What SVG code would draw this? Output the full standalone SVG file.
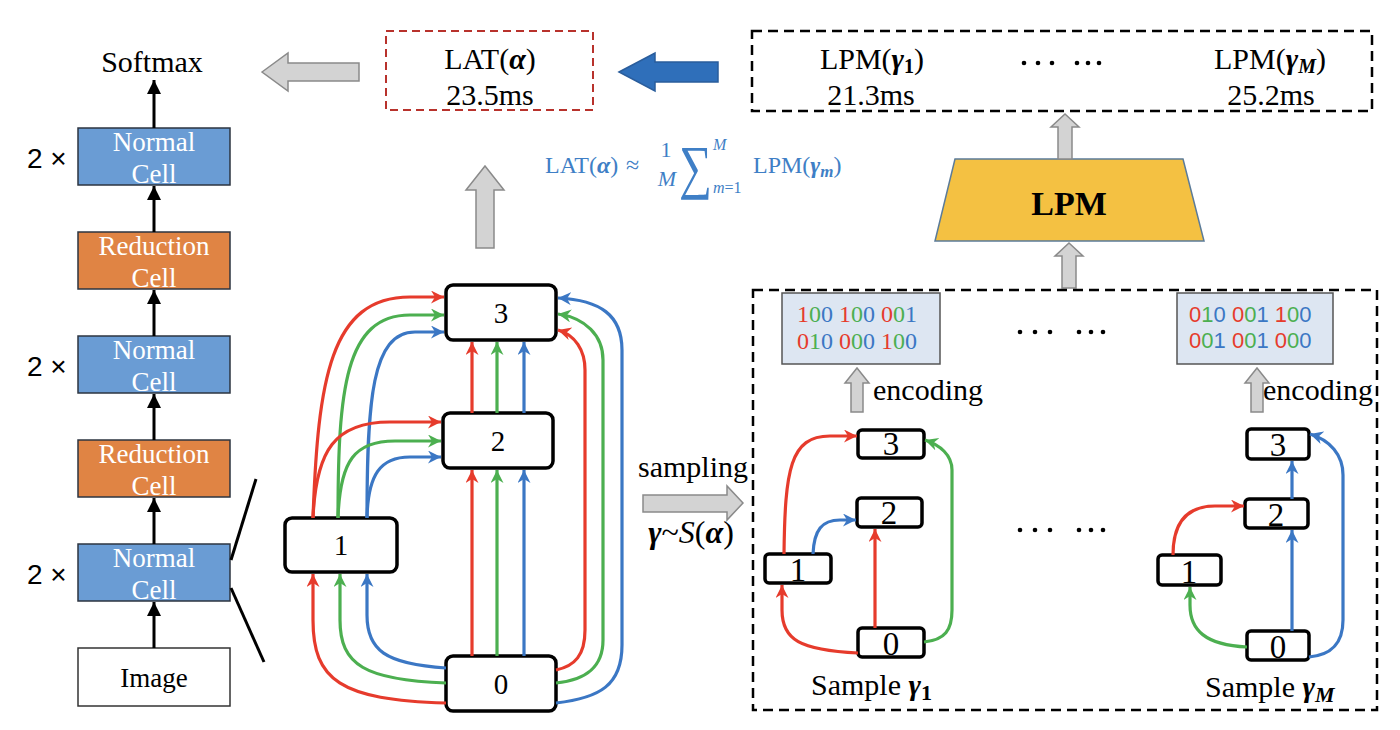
<svg xmlns="http://www.w3.org/2000/svg" width="1400" height="730" viewBox="0 0 1400 730">
<style>
.serif{font-family:"Liberation Serif","Times New Roman",serif;}
.sans{font-family:"Liberation Sans",Arial,sans-serif;}
.cellbox{stroke:#2d3540;stroke-width:1.5;}
.normal{fill:#6a9cd4;}
.reduction{fill:#e08444;}
.celltxt{font-family:"Liberation Serif",serif;font-size:27px;fill:#ffffff;text-anchor:middle;}
.blk{stroke:#000;stroke-width:3;fill:none;}
.gray{fill:#d3d3d3;stroke:#8a8a8a;stroke-width:1.5;}
.node{fill:#fff;stroke:#000;stroke-width:3.5;}
.ntxt{font-family:"Liberation Serif",serif;font-size:29px;text-anchor:middle;fill:#000;}
.stxt{font-family:"Liberation Serif",serif;font-size:33px;text-anchor:middle;fill:#000;}
.r{stroke:#e63b2c;}
.g{stroke:#4caf50;}
.b{stroke:#3b77c4;}
.e{fill:none;stroke-width:3.2;}
.dash{fill:none;stroke:#000;stroke-width:2.5;stroke-dasharray:10 6;}
.enc{fill:#dde6f2;stroke:#555;stroke-width:1.5;}
.cr{fill:#e63b2c;}.cg{fill:#4caf50;}.cb{fill:#3b77c4;}
.bi{font-weight:bold;font-style:italic;}
</style>
<defs>
<marker id="ab" markerUnits="userSpaceOnUse" markerWidth="16" markerHeight="14" refX="14" refY="7" orient="auto"><path d="M0,0 L14,7 L0,14 z" fill="#000"/></marker>
<marker id="mr" markerUnits="userSpaceOnUse" markerWidth="15" markerHeight="14" refX="13" refY="6.5" orient="auto"><path d="M0,0 L13,6.5 L0,13 L4,6.5 z" fill="#e63b2c"/></marker>
<marker id="mg" markerUnits="userSpaceOnUse" markerWidth="15" markerHeight="14" refX="13" refY="6.5" orient="auto"><path d="M0,0 L13,6.5 L0,13 L4,6.5 z" fill="#4caf50"/></marker>
<marker id="mb" markerUnits="userSpaceOnUse" markerWidth="15" markerHeight="14" refX="13" refY="6.5" orient="auto"><path d="M0,0 L13,6.5 L0,13 L4,6.5 z" fill="#3b77c4"/></marker>
</defs>
<rect width="1400" height="730" fill="#fff"/>

<!-- Left column -->
<g id="softmax"><text class="serif" x="152" y="72" font-size="30" text-anchor="middle">Softmax</text></g>
<g id="normal1"><rect class="cellbox normal" x="78" y="128" width="152" height="57"/><text class="celltxt" x="154" y="151">Normal</text><text class="celltxt" x="154" y="183">Cell</text><text class="sans" x="27" y="168" font-size="28">2 ×</text></g>
<g id="reduction1"><rect class="cellbox reduction" x="78" y="232" width="152" height="57"/><text class="celltxt" x="154" y="255">Reduction</text><text class="celltxt" x="154" y="287">Cell</text></g>
<g id="normal2"><rect class="cellbox normal" x="78" y="336" width="152" height="57"/><text class="celltxt" x="154" y="359">Normal</text><text class="celltxt" x="154" y="391">Cell</text><text class="sans" x="27" y="376" font-size="28">2 ×</text></g>
<g id="reduction2"><rect class="cellbox reduction" x="78" y="440" width="152" height="57"/><text class="celltxt" x="154" y="463">Reduction</text><text class="celltxt" x="154" y="495">Cell</text></g>
<g id="normal3"><rect class="cellbox normal" x="78" y="544" width="152" height="57"/><text class="celltxt" x="154" y="567">Normal</text><text class="celltxt" x="154" y="599">Cell</text><text class="sans" x="27" y="584" font-size="28">2 ×</text></g>
<g id="image"><rect x="78" y="648" width="152" height="58" fill="#fff" stroke="#333" stroke-width="1.5"/><text class="serif" x="154" y="687" font-size="27" text-anchor="middle">Image</text></g>

<g id="left-connectors">
<line class="blk" x1="154" y1="128" x2="154" y2="80" marker-end="url(#ab)"/>
<line class="blk" x1="154" y1="232" x2="154" y2="186" marker-end="url(#ab)"/>
<line class="blk" x1="154" y1="336" x2="154" y2="290" marker-end="url(#ab)"/>
<line class="blk" x1="154" y1="440" x2="154" y2="394" marker-end="url(#ab)"/>
<line class="blk" x1="154" y1="544" x2="154" y2="498" marker-end="url(#ab)"/>
<line class="blk" x1="154" y1="648" x2="154" y2="602" marker-end="url(#ab)"/>
<line class="blk" x1="231" y1="560" x2="256" y2="479"/>
<line class="blk" x1="231" y1="588" x2="264" y2="662"/>
</g>

<!-- Top row -->
<g id="lat-box">
<rect x="386" y="31" width="207" height="79" fill="none" stroke="#b8322c" stroke-width="2" stroke-dasharray="8 5"/>
<text class="serif" x="490" y="69" font-size="30" text-anchor="middle">LAT(<tspan class="bi">α</tspan>)</text>
<text class="serif" x="490" y="105" font-size="30" text-anchor="middle">23.5ms</text>
</g>
<g id="lpm-results">
<rect class="dash" x="752" y="31" width="620" height="80"/>
<text class="serif" x="872" y="69" font-size="30" text-anchor="middle">LPM(<tspan class="bi">γ</tspan><tspan font-weight="bold" font-size="20" dy="4">1</tspan><tspan dy="-4">)</tspan></text>
<text class="serif" x="871" y="105" font-size="30" text-anchor="middle">21.3ms</text>
<text class="serif" x="1270" y="69" font-size="30" text-anchor="middle">LPM(<tspan class="bi">γ</tspan><tspan class="bi" font-size="20" dy="4">M</tspan><tspan dy="-4">)</tspan></text>
<text class="serif" x="1271" y="105" font-size="30" text-anchor="middle">25.2ms</text>
<g fill="#000"><circle cx="1024" cy="63" r="2.3"/><circle cx="1038" cy="63" r="2.3"/><circle cx="1052" cy="63" r="2.3"/><circle cx="1077" cy="63" r="2.3"/><circle cx="1088" cy="63" r="2.3"/><circle cx="1099" cy="63" r="2.3"/></g>
</g>
<g id="formula" fill="#3f7fc6" class="serif">
<text x="545" y="173" font-size="24">LAT(<tspan class="bi">α</tspan>)</text>
<text x="626" y="173" font-size="24">≈</text>
<text x="666" y="157" font-size="22" text-anchor="middle">1</text>
<text x="667" y="186" font-size="22" text-anchor="middle" font-style="italic">M</text>
<text transform="translate(679,187) scale(1.05,1.35)" font-size="44">∑</text>
<text x="713" y="150" font-size="16" font-style="italic">M</text>
<text x="713" y="193" font-size="16"><tspan font-style="italic">m</tspan>=1</text>
<text x="753" y="173" font-size="24">LPM(<tspan class="bi">γ</tspan><tspan class="bi" font-size="17" dy="4">m</tspan><tspan dy="-4">)</tspan></text>
</g>
<g id="lpm">
<polygon points="955,159 1183,159 1204,241 935,241" fill="#f4c142" stroke="#5b7b99" stroke-width="1.5"/>
<text class="serif" x="1069" y="215" font-size="34" font-weight="bold" text-anchor="middle">LPM</text>
</g>

<g id="block-arrows">
<polygon class="gray" points="262,72 288,53 288,63 359,63 359,81 288,81 288,91"/>
<polygon points="619,72 655,53 655,62 718,62 718,82 655,82 655,91" fill="#2f6fba" stroke="#2a5d9c" stroke-width="1.5"/>
<polygon class="gray" points="485,166 504,190 494,190 494,248 476,248 476,190 466,190"/>
<polygon class="gray" points="1065,114 1079,127 1072,127 1072,159 1058,159 1058,127 1051,127"/>
<polygon class="gray" points="1069,243 1083,256 1076,256 1076,288 1062,288 1062,256 1055,256"/>
<polygon class="gray" points="857,368 869,383 863,383 863,412 851,412 851,383 845,383"/>
<polygon class="gray" points="1257,368 1269,383 1263,383 1263,412 1251,412 1251,383 1245,383"/>
<polygon class="gray" points="743,503 727,486 727,495 643,495 643,512 727,512 727,520"/>
</g>
<g id="sampling-label">
<text class="serif" x="693" y="477" font-size="30" text-anchor="middle">sampling</text>
<text class="serif" x="691" y="543" font-size="32" text-anchor="middle"><tspan class="bi">γ</tspan>~<tspan font-style="italic">S</tspan>(<tspan class="bi">α</tspan>)</text>
</g>

<!-- Supernet graph -->
<g id="sn-node3"><rect class="node" x="446" y="285" width="110" height="55" rx="7"/><text class="ntxt" x="501" y="323">3</text></g>
<g id="sn-node2"><rect class="node" x="443" y="413" width="110" height="55" rx="7"/><text class="ntxt" x="498" y="451">2</text></g>
<g id="sn-node1"><rect class="node" x="285" y="518" width="112" height="54" rx="7"/><text class="ntxt" x="341" y="555">1</text></g>
<g id="sn-node0"><rect class="node" x="446" y="656" width="110" height="55" rx="7"/><text class="ntxt" x="501" y="694">0</text></g>

<g id="sn-edges">
<path class="e r" d="M313,518 C318,380 330,297 410,297 L444,297" marker-end="url(#mr)"/>
<path class="e g" d="M338,518 C338,390 345,315 410,315 L444,315" marker-end="url(#mg)"/>
<path class="e b" d="M367,518 C367,400 372,332 415,332 L444,332" marker-end="url(#mb)"/>
<path class="e r" d="M313,518 C316,450 335,422 390,422 L441,422" marker-end="url(#mr)"/>
<path class="e g" d="M338,518 C340,460 355,441 395,441 L441,441" marker-end="url(#mg)"/>
<path class="e b" d="M367,518 C368,475 380,457 410,457 L441,457" marker-end="url(#mb)"/>
<path class="e r" d="M446,703 C340,700 313,680 313,620 L313,574" marker-end="url(#mr)"/>
<path class="e g" d="M446,683 C365,680 340,665 340,620 L340,574" marker-end="url(#mg)"/>
<path class="e b" d="M446,668 C385,664 367,650 367,615 L367,574" marker-end="url(#mb)"/>
<path class="e r" d="M472,656 L472,470" marker-end="url(#mr)"/>
<path class="e g" d="M497,656 L497,470" marker-end="url(#mg)"/>
<path class="e b" d="M524,656 L524,470" marker-end="url(#mb)"/>
<path class="e r" d="M472,413 L472,342" marker-end="url(#mr)"/>
<path class="e g" d="M497,413 L497,342" marker-end="url(#mg)"/>
<path class="e b" d="M524,413 L524,342" marker-end="url(#mb)"/>
<path class="e r" d="M556,670 C575,666 585,655 585,630 L585,370 C585,350 575,335 558,330" marker-end="url(#mr)"/>
<path class="e g" d="M556,683 C585,680 603,668 603,640 L603,360 C603,335 585,318 558,314" marker-end="url(#mg)"/>
<path class="e b" d="M556,703 C600,698 622,685 622,645 L622,350 C622,315 600,300 558,298" marker-end="url(#mb)"/>
</g>

<!-- Samples -->
<g id="samples-box"><rect class="dash" x="753" y="290" width="624" height="420"/></g>
<g id="enc1"><rect class="enc" x="782" y="293" width="158" height="71"/>
<text class="serif" x="797" y="322" font-size="24"><tspan class="cr">1</tspan><tspan class="cg">0</tspan><tspan class="cb">0</tspan> <tspan class="cr">1</tspan><tspan class="cg">0</tspan><tspan class="cb">0</tspan> <tspan class="cr">0</tspan><tspan class="cg">0</tspan><tspan class="cb">1</tspan></text>
<text class="serif" x="797" y="349" font-size="24"><tspan class="cr">0</tspan><tspan class="cg">1</tspan><tspan class="cb">0</tspan> <tspan class="cr">0</tspan><tspan class="cg">0</tspan><tspan class="cb">0</tspan> <tspan class="cr">1</tspan><tspan class="cg">0</tspan><tspan class="cb">0</tspan></text>
</g>
<g id="enc2"><rect class="enc" x="1177" y="293" width="156" height="71"/>
<text class="sans" x="1189" y="322" font-size="22"><tspan class="cr">0</tspan><tspan class="cg">1</tspan><tspan class="cb">0</tspan> <tspan class="cr">0</tspan><tspan class="cg">0</tspan><tspan class="cb">1</tspan> <tspan class="cr">1</tspan><tspan class="cg">0</tspan><tspan class="cb">0</tspan></text>
<text class="sans" x="1189" y="348" font-size="22"><tspan class="cr">0</tspan><tspan class="cg">0</tspan><tspan class="cb">1</tspan> <tspan class="cr">0</tspan><tspan class="cg">0</tspan><tspan class="cb">1</tspan> <tspan class="cr">0</tspan><tspan class="cg">0</tspan><tspan class="cb">0</tspan></text>
</g>
<g id="enc-labels">
<text class="serif" x="873" y="400" font-size="30">encoding</text>
<text class="serif" x="1263" y="400" font-size="30">encoding</text>
</g>
<g id="mid-dots" fill="#000">
<circle cx="1020" cy="332" r="2.3"/><circle cx="1035" cy="332" r="2.3"/><circle cx="1050" cy="332" r="2.3"/><circle cx="1079" cy="332" r="2.3"/><circle cx="1091" cy="332" r="2.3"/><circle cx="1103" cy="332" r="2.3"/>
<circle cx="1020" cy="530" r="2.3"/><circle cx="1035" cy="530" r="2.3"/><circle cx="1050" cy="530" r="2.3"/><circle cx="1079" cy="530" r="2.3"/><circle cx="1091" cy="530" r="2.3"/><circle cx="1103" cy="530" r="2.3"/>
</g>

<g id="s1-node3"><rect class="node" x="858" y="430" width="66" height="28" rx="4"/><text class="stxt" x="891" y="455">3</text></g>
<g id="s1-node2"><rect class="node" x="857" y="498" width="65" height="29" rx="4"/><text class="stxt" x="889" y="524">2</text></g>
<g id="s1-node1"><rect class="node" x="765" y="554" width="66" height="29" rx="4"/><text class="stxt" x="798" y="581">1</text></g>
<g id="s1-node0"><rect class="node" x="858" y="628" width="66" height="29" rx="4"/><text class="stxt" x="891" y="655">0</text></g>
<g id="s1-label"><text class="serif" x="811" y="695" font-size="30">Sample <tspan class="bi">γ</tspan><tspan font-weight="bold" font-size="22" dy="5">1</tspan></text></g>

<g id="sM-node3"><rect class="node" x="1247" y="429" width="62" height="30" rx="4"/><text class="stxt" x="1278" y="456">3</text></g>
<g id="sM-node2"><rect class="node" x="1245" y="499" width="63" height="29" rx="4"/><text class="stxt" x="1276" y="526">2</text></g>
<g id="sM-node1"><rect class="node" x="1158" y="555" width="63" height="30" rx="4"/><text class="stxt" x="1189" y="583">1</text></g>
<g id="sM-node0"><rect class="node" x="1247" y="631" width="62" height="29" rx="4"/><text class="stxt" x="1278" y="658">0</text></g>
<g id="sM-label"><text class="serif" x="1205" y="697" font-size="30">Sample <tspan class="bi">γ</tspan><tspan class="bi" font-size="22" dy="5">M</tspan></text></g>

<g id="sample-edges">
<path class="e r" d="M784,554 C785,470 790,436 830,436 L857,436" marker-end="url(#mr)"/>
<path class="e b" d="M813,554 C814,530 822,520 840,520 L856,520" marker-end="url(#mb)"/>
<path class="e r" d="M875,628 L875,529" marker-end="url(#mr)"/>
<path class="e g" d="M924,642 C945,640 952,630 952,610 L952,470 C952,455 940,445 925,440" marker-end="url(#mg)"/>
<path class="e r" d="M858,653 C800,650 782,640 782,610 L782,585" marker-end="url(#mr)"/>
<path class="e r" d="M1173,555 C1173,525 1185,506 1215,506 L1244,506" marker-end="url(#mr)"/>
<path class="e b" d="M1292,499 L1292,461" marker-end="url(#mb)"/>
<path class="e b" d="M1292,631 L1292,530" marker-end="url(#mb)"/>
<path class="e g" d="M1247,647 C1205,645 1190,630 1190,605 L1190,587" marker-end="url(#mg)"/>
<path class="e b" d="M1309,657 C1330,655 1343,645 1343,620 L1343,475 C1343,455 1330,440 1310,434" marker-end="url(#mb)"/>
</g>
</svg>
